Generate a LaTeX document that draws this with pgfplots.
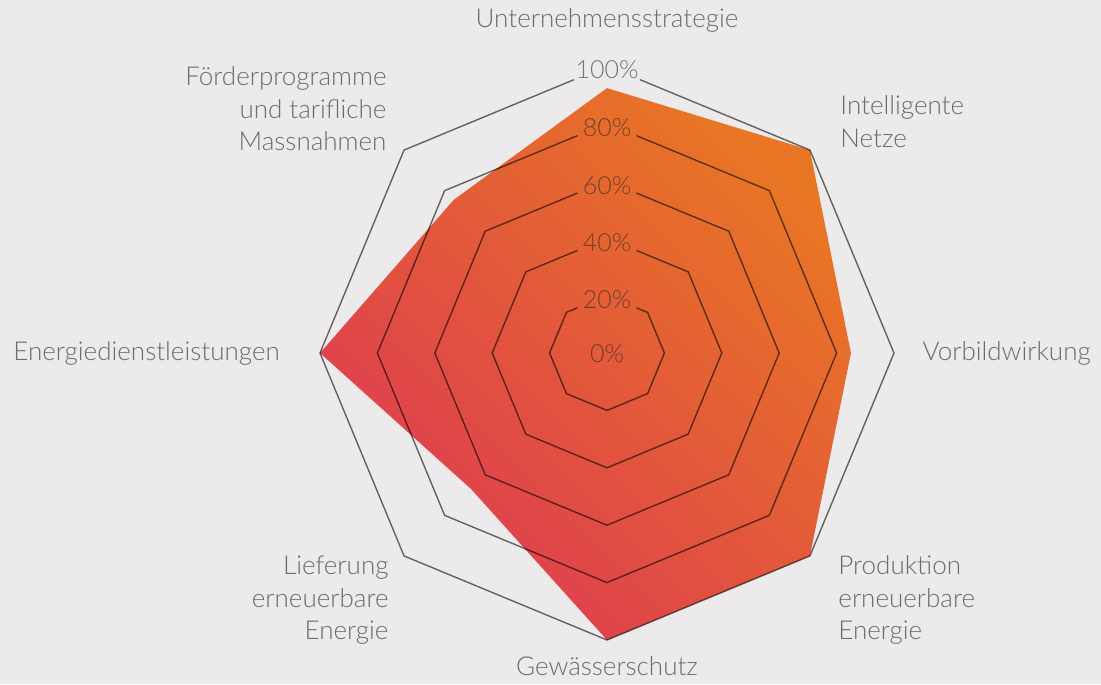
\documentclass[border=0pt]{standalone}
\usepackage{fontspec}
\setmainfont{Lato}[UprightFont={* Light}]
\usepackage{pgfplots}
\pgfplotsset{compat=1.18}
\definecolor{bgc}{RGB}{236,234,234}
\definecolor{labc}{RGB}{108,108,108}
\definecolor{orangeC}{RGB}{232,118,36}
\definecolor{redC}{RGB}{221,58,82}
\begin{document}
\begin{tikzpicture}
\begin{axis}[
  hide axis, scale only axis, clip=false,
  x=1.435pt, y=1.435pt,
  xmin=-211.50, xmax=172.13, ymin=-115.33, ymax=123.0,
]
\fill[bgc] (rel axis cs:0,0) rectangle (rel axis cs:1,1);
% data
\addplot[draw=none, left color=redC, right color=orangeC, shading angle=135, data cs=polar]
 coordinates {(90,92.3) (45,100) (0,85) (-45,100) (-90,100) (-135,67) (180,100) (135,75.5) (90,92.3)};
% grid rings (open at the top for the tick labels)
\addplot[black, draw opacity=0.58, line width=0.7pt, mark=none] coordinates {
 (11.5,95.24) (70.71,70.71) (100,0) (70.71,-70.71) (0,-100) (-70.71,-70.71) (-100,0) (-70.71,70.71) (-11.5,95.24)};
\addplot[black, draw opacity=0.58, line width=0.7pt, mark=none] coordinates {
 (10.3,75.73) (56.57,56.57) (80,0) (56.57,-56.57) (0,-80) (-56.57,-56.57) (-80,0) (-56.57,56.57) (-10.3,75.73)};
\addplot[black, draw opacity=0.58, line width=0.7pt, mark=none] coordinates {
 (10.3,55.73) (42.43,42.43) (60,0) (42.43,-42.43) (0,-60) (-42.43,-42.43) (-60,0) (-42.43,42.43) (-10.3,55.73)};
\addplot[black, draw opacity=0.58, line width=0.7pt, mark=none] coordinates {
 (10.3,35.73) (28.28,28.28) (40,0) (28.28,-28.28) (0,-40) (-28.28,-28.28) (-40,0) (-28.28,28.28) (-10.3,35.73)};
\addplot[black, draw opacity=0.58, line width=0.7pt, mark=none] coordinates {
 (10.3,15.73) (14.14,14.14) (20,0) (14.14,-14.14) (0,-20) (-14.14,-14.14) (-20,0) (-14.14,14.14) (-10.3,15.73)};
% tick labels
\begin{scope}[every node/.style={text=black!85, text opacity=0.6, font=\fontsize{12.5}{15}\selectfont, inner sep=0pt}]
\node at (axis cs:0,98.8) {100\%};
\node at (axis cs:0,78.4) {80\%};
\node at (axis cs:0,58.2) {60\%};
\node at (axis cs:0,38.5) {40\%};
\node at (axis cs:0,18.5) {20\%};
\node at (axis cs:0,-0.2) {0\%};
\end{scope}
% category labels
\begin{scope}[every node/.style={text=labc, font=\fontsize{13}{16.25}\selectfont, inner sep=0pt}]
\node at (axis cs:0,116.0) {Unternehmensstrategie};
\node[anchor=west, align=left] at (axis cs:81.2,80.7) {Intelligente\\Netze};
\node[anchor=west] at (axis cs:109.8,0) {Vorbildwirkung};
\node[anchor=west, align=left] at (axis cs:80.5,-86.1) {Produktion\\erneuerbare\\Energie};
\node at (axis cs:0,-109.1) {Gewässerschutz};
\node[anchor=east, align=right] at (axis cs:-76.0,-86.1) {Lieferung\\erneuerbare\\Energie};
\node[anchor=east] at (axis cs:-113.9,0) {Energiedienstleistungen};
\node[anchor=east, align=right] at (axis cs:-76.7,85.0) {Förderprogramme\\und tarifliche\\Massnahmen};
\end{scope}
\end{axis}
\end{tikzpicture}
\end{document}
